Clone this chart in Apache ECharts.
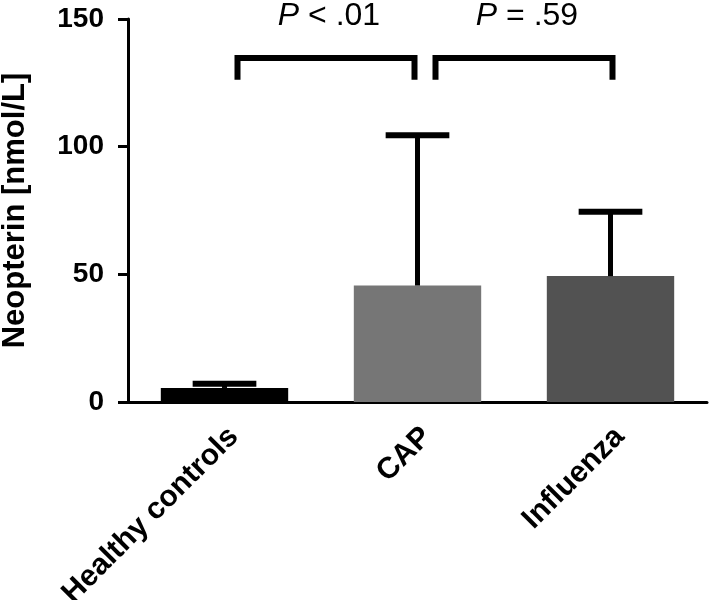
<!DOCTYPE html>
<html>
<head>
<meta charset="utf-8">
<script src="https://cdn.jsdelivr.net/npm/echarts@6/dist/echarts.min.js"></script>
<style>html,body{margin:0;padding:0;background:#fff}#c{width:709px;height:600px}</style>
</head>
<body>
<div id="c"></div>
<script>
// ---- data ----
const categories = ['Healthy controls', 'CAP', 'Influenza'];
const meanValues = [5.5, 45.6, 49.3];
const upperErrorValues = [7.1, 104.5, 74.5];
const barColors = ['#000000', '#767676', '#525252'];
const yMin = 0, yMax = 150, yInterval = 50;
const yAxisName = 'Neopterin [nmol/L]';
// significance comparisons
const compFrom = [0, 1];
const compTo = [1, 2];
const compBarValue = [134.7, 134.7];
const compLegValue = [126.2, 126.2];
const compPrefix = ['P', 'P'];
const compText = [' < .01', ' = .59'];
const compTextValue = [151, 151];

const FONT = '"Liberation Sans", Arial, Helvetica, sans-serif';
const chart = echarts.init(document.getElementById('c'), null, {renderer: 'canvas'});

const legOffsets = [[13, -3], [18, 2]];

chart.setOption({
  animation: false,
  backgroundColor: '#fff',
  grid: {left: 128, right: 2, top: 19, bottom: 198, containLabel: false, outerBoundsMode: 'none'},
  xAxis: {
    type: 'category',
    data: categories,
    axisLine: {lineStyle: {color: '#000', width: 3}},
    axisTick: {alignWithLabel: true, length: 12, lineStyle: {color: '#000', width: 3}},
    axisLabel: {
      rotate: 45, margin: 21, color: '#000', fontWeight: 'bold', fontSize: 30,
      fontFamily: FONT, verticalAlign: 'top', lineHeight: 26, interval: 0, hideOverlap: false
    },
    splitLine: {show: false}
  },
  yAxis: {
    type: 'value', min: yMin, max: yMax, interval: yInterval,
    name: yAxisName, nameLocation: 'middle', nameGap: 97,
    nameTextStyle: {color: '#000', fontWeight: 'bold', fontSize: 31, fontFamily: FONT},
    axisLine: {show: true, lineStyle: {color: '#000', width: 3}},
    axisTick: {show: true, length: 10, lineStyle: {color: '#000', width: 3}},
    axisLabel: {color: '#000', fontWeight: 'bold', fontSize: 28, fontFamily: FONT, margin: 24},
    splitLine: {show: false}
  },
  series: [
    {
      type: 'bar',
      data: meanValues.map((v, i) => ({value: v, itemStyle: {color: barColors[i]}})),
      barCategoryGap: '34%',
      z: 2
    },
    {
      type: 'custom',
      data: meanValues.map((v, i) => [i, v, upperErrorValues[i]]),
      z: 3,
      renderItem: function (params, api) {
        const i = api.value(0);
        const pMean = api.coord([i, api.value(1)]);
        const pHigh = api.coord([i, api.value(2)]);
        const band = api.size([1, 0])[0];
        const capW = band * 0.33;
        const stemW = 5, capH = 6;
        return {
          type: 'group',
          children: [
            {type: 'rect', shape: {x: pMean[0] - stemW / 2, y: pHigh[1], width: stemW, height: pMean[1] - pHigh[1]}, style: {fill: '#000'}},
            {type: 'rect', shape: {x: pHigh[0] - capW / 2, y: pHigh[1] - capH / 2, width: capW, height: capH}, style: {fill: '#000'}}
          ]
        };
      }
    },
    {
      type: 'custom',
      clip: false,
      z: 4,
      data: compFrom.map((f, k) => [f, compTo[k], compBarValue[k], compLegValue[k], compTextValue[k], k]),
      renderItem: function (params, api) {
        const k = api.value(5);
        const a = api.coord([api.value(0), api.value(2)]);
        const b = api.coord([api.value(1), api.value(3)]);
        const t = api.coord([api.value(0), api.value(4)]);
        const xL = a[0] + legOffsets[k][0];
        const xR = b[0] + legOffsets[k][1];
        const yBar = a[1];
        const yLeg = b[1];
        return {
          type: 'group',
          children: [
            {type: 'polyline', shape: {points: [[xL, yLeg], [xL, yBar], [xR, yBar], [xR, yLeg]]},
             style: {stroke: '#000', lineWidth: 6, fill: null, lineJoin: 'miter', lineCap: 'butt'}},
            {type: 'text', x: (xL + xR) / 2 + 3, y: t[1],
             style: {
               text: '{i|' + compPrefix[k] + '}{n|' + compText[k] + '}',
               align: 'center', verticalAlign: 'middle',
               rich: {
                 i: {fontStyle: 'italic', fontSize: 32, fontFamily: FONT, fill: '#000'},
                 n: {fontSize: 32, fontFamily: FONT, fill: '#000'}
               }
             }}
          ]
        };
      }
    }
  ]
});
</script>
</body>
</html>
